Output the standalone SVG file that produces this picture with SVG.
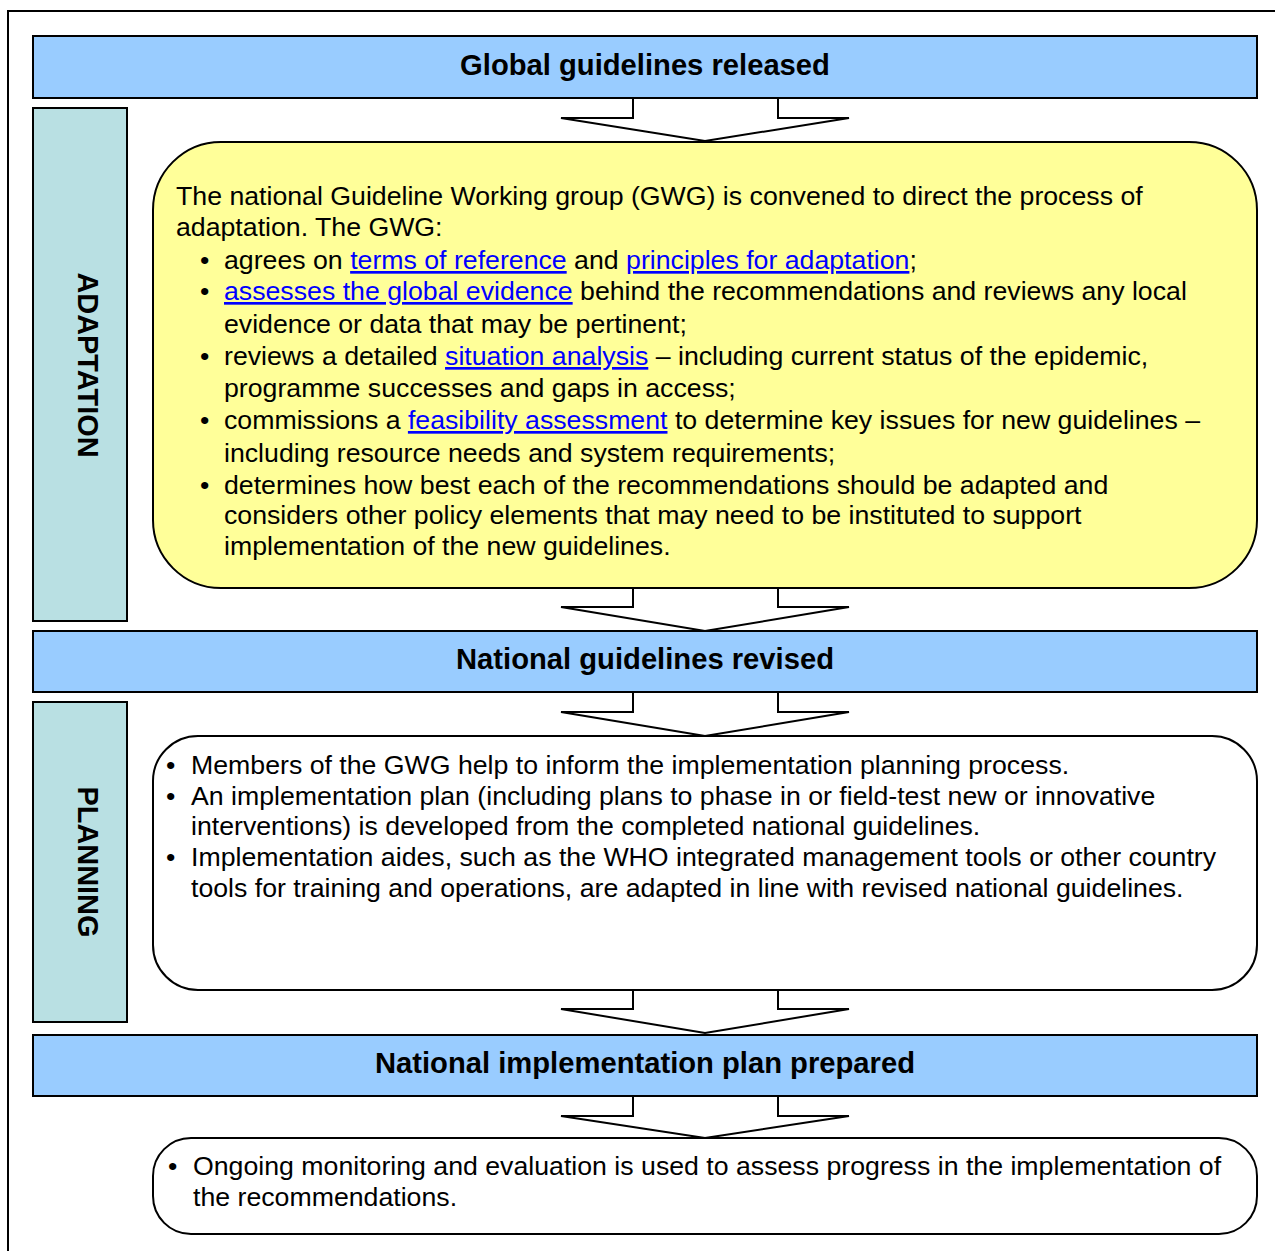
<svg xmlns="http://www.w3.org/2000/svg" width="1275" height="1251" viewBox="0 0 1275 1251">
<style>
  .bar { fill: #99CCFF; stroke: #000; stroke-width: 2; }
  .side { fill: #B9E0E3; stroke: #000; stroke-width: 2; }
  .arrow { fill: #fff; stroke: #000; stroke-width: 2; stroke-linejoin: miter; }
  .title { font-family: "Liberation Sans", Arial, sans-serif; font-weight: bold; font-size: 29.2px; fill: #000; text-anchor: middle; }
  .vlabel { font-family: "Liberation Sans", Arial, sans-serif; font-weight: bold; font-size: 28.9px; fill: #000; text-anchor: middle; }
  .body { font-family: "Liberation Sans", Arial, sans-serif; font-size: 26.7px; fill: #000; }
  .link { fill: #0000FF; text-decoration: underline; }
  .ul { text-decoration: underline; }
</style>
<rect x="8" y="11" width="1320" height="1320" fill="#fff" stroke="#000" stroke-width="2"/>

<g id="connectors">
  <path class="arrow" d="M633,98 L633,118 L561,118 L705,141 L849,118 L778,118 L778,98"/>
  <path class="arrow" d="M633,588 L633,607 L561,607 L705,631 L849,607 L778,607 L778,588"/>
  <path class="arrow" d="M633,692 L633,712 L561,712 L705,736 L849,712 L778,712 L778,692"/>
  <path class="arrow" d="M633,990 L633,1009 L561,1009 L705,1033 L849,1009 L778,1009 L778,990"/>
  <path class="arrow" d="M633,1096 L633,1116 L561,1116 L705,1138 L849,1116 L778,1116 L778,1096"/>
</g>

<g id="global-guidelines">
  <rect class="bar" x="33" y="36" width="1224" height="62"/>
  <text class="title" x="645" y="75">Global guidelines released</text>
</g>

<g id="adaptation-label">
  <rect class="side" x="33" y="108" width="94" height="513"/>
  <text class="vlabel" transform="translate(78,365) rotate(90)">ADAPTATION</text>
</g>

<g id="adaptation-box">
  <rect x="153" y="142" width="1104" height="446" rx="68" ry="68" fill="#FFFF99" stroke="#000" stroke-width="2"/>
  <text class="body">
    <tspan x="176" y="205">The national Guideline Working group (GWG) is convened to direct the process of</tspan>
    <tspan x="176" y="236">adaptation. The GWG:</tspan>
  </text>
  <text class="body">
    <tspan x="200" y="269">•</tspan>
    <tspan x="200" y="300">•</tspan>
    <tspan x="200" y="365">•</tspan>
    <tspan x="200" y="429">•</tspan>
    <tspan x="200" y="494">•</tspan>
  </text>
  <text class="body" x="224" y="269">agrees on <tspan class="link">terms of reference</tspan> and <tspan class="link">principles for adaptation</tspan><tspan class="ul">;</tspan></text>
  <text class="body" x="224" y="300"><tspan class="link">assesses the global evidence</tspan> behind the recommendations and reviews any local</text>
  <text class="body" x="224" y="333">evidence or data that may be pertinent;</text>
  <text class="body" x="224" y="365">reviews a detailed <tspan class="link">situation analysis</tspan> – including current status of the epidemic,</text>
  <text class="body" x="224" y="397">programme successes and gaps in access;</text>
  <text class="body" x="224" y="429">commissions a <tspan class="link">feasibility assessment</tspan> to determine key issues for new guidelines –</text>
  <text class="body" x="224" y="462">including resource needs and system requirements;</text>
  <text class="body" x="224" y="494">determines how best each of the recommendations should be adapted and</text>
  <text class="body" x="224" y="524">considers other policy elements that may need to be instituted to support</text>
  <text class="body" x="224" y="555">implementation of the new guidelines.</text>
</g>

<g id="national-guidelines">
  <rect class="bar" x="33" y="631" width="1224" height="61"/>
  <text class="title" x="645" y="669">National guidelines revised</text>
</g>

<g id="planning-label">
  <rect class="side" x="33" y="702" width="94" height="320"/>
  <text class="vlabel" transform="translate(78,862) rotate(90)">PLANNING</text>
</g>

<g id="planning-box">
  <rect x="153" y="736" width="1104" height="254" rx="45" ry="45" fill="#fff" stroke="#000" stroke-width="2"/>
  <text class="body">
    <tspan x="166" y="774">•</tspan>
    <tspan x="166" y="805">•</tspan>
    <tspan x="166" y="866">•</tspan>
  </text>
  <text class="body" x="191" y="774">Members of the GWG help to inform the implementation planning process.</text>
  <text class="body" x="191" y="805">An implementation plan (including plans to phase in or field-test new or innovative</text>
  <text class="body" x="191" y="835">interventions) is developed from the completed national guidelines.</text>
  <text class="body" x="191" y="866">Implementation aides, such as the WHO integrated management tools or other country</text>
  <text class="body" x="191" y="897">tools for training and operations, are adapted in line with revised national guidelines.</text>
</g>

<g id="implementation-plan">
  <rect class="bar" x="33" y="1035" width="1224" height="61"/>
  <text class="title" x="645" y="1073">National implementation plan prepared</text>
</g>

<g id="monitoring-box">
  <rect x="153" y="1138" width="1104" height="96" rx="38" ry="38" fill="#fff" stroke="#000" stroke-width="2"/>
  <text class="body" x="168" y="1175">•</text>
  <text class="body" x="193" y="1175">Ongoing monitoring and evaluation is used to assess progress in the implementation of</text>
  <text class="body" x="193" y="1206">the recommendations.</text>
</g>
</svg>
